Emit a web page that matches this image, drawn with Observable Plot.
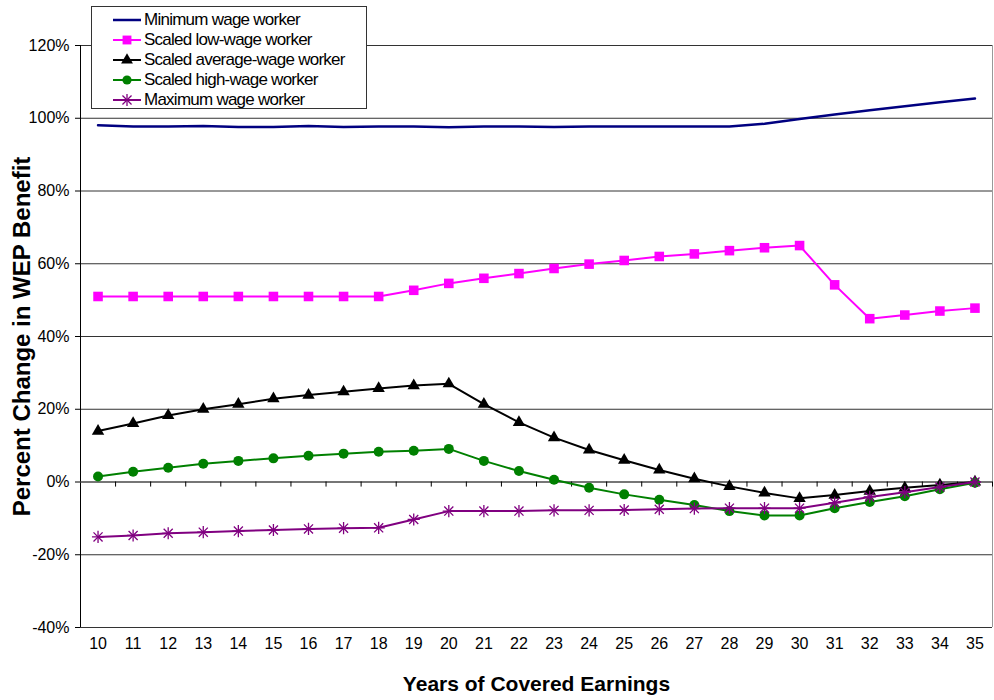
<!DOCTYPE html>
<html>
<head>
<meta charset="utf-8">
<script src="https://cdn.jsdelivr.net/npm/d3@7"></script>
<script src="https://cdn.jsdelivr.net/npm/@observablehq/plot@0.6"></script>
<style>
  html, body { margin: 0; padding: 0; background: #fff; }
  #wrap { position: relative; width: 994px; height: 700px; font-family: "Liberation Sans", Arial, sans-serif; }
  #legend { position: absolute; left: 91px; top: 6px; width: 276px; height: 103px; border: 1px solid #333; background: #fff; box-sizing: border-box; }
  .row { position: absolute; left: 0; height: 20px; display: flex; align-items: center; }
  .row svg { margin-left: 20px; }
  .row span { font-size: 17px; letter-spacing: -0.75px; margin-left: 2px; color: #000; white-space: nowrap; }
</style>
</head>
<body>
<div id="wrap"><div id="chart"></div><div id="legend"></div></div>
<script>
const years = [10,11,12,13,14,15,16,17,18,19,20,21,22,23,24,25,26,27,28,29,30,31,32,33,34,35];
const minWage  = [98.1,97.7,97.7,97.9,97.6,97.6,97.9,97.6,97.7,97.7,97.5,97.7,97.7,97.6,97.7,97.7,97.7,97.7,97.7,98.5,99.8,101.0,102.2,103.3,104.4,105.4];
const lowWage  = [51.0,51.0,51.0,51.0,51.0,51.0,51.0,51.0,51.0,52.7,54.6,56.0,57.3,58.7,59.9,60.9,62.0,62.7,63.6,64.4,65.0,54.2,44.9,45.9,47.0,47.8];
const avgWage  = [14.0,16.1,18.3,20.0,21.4,22.9,23.9,24.8,25.7,26.5,27.0,21.4,16.4,12.2,8.8,6.0,3.3,0.9,-1.2,-3.0,-4.5,-3.6,-2.5,-1.6,-0.8,0.0];
const highWage = [1.5,2.8,3.9,5.0,5.8,6.5,7.2,7.8,8.3,8.6,9.1,5.8,3.0,0.6,-1.6,-3.4,-4.9,-6.3,-8.0,-9.2,-9.2,-7.2,-5.5,-3.9,-2.0,-0.2];
const maxWage  = [-15.1,-14.7,-14.1,-13.8,-13.5,-13.2,-12.9,-12.7,-12.6,-10.3,-8.0,-8.0,-8.0,-7.8,-7.8,-7.7,-7.5,-7.3,-7.2,-7.2,-7.2,-5.7,-4.1,-2.8,-1.4,0.0];
const seriesNames = ["Minimum wage worker","Scaled low-wage worker","Scaled average-wage worker","Scaled high-wage worker","Maximum wage worker"];
const yTicks = [-40,-20,0,20,40,60,80,100,120];
const xTitle = "Years of Covered Earnings";
const yTitle = "Percent Change in WEP Benefit";

const rows = v => years.map((yr, i) => ({year: yr, value: v[i]}));
const dMin = rows(minWage), dLow = rows(lowWage), dAvg = rows(avgWage), dHigh = rows(highWage), dMax = rows(maxWage);
const bounds = years.map(y => y + 0.5);

const C = {min: "#000080", low: "#ff00ff", avg: "#000000", high: "#008000", max: "#800080"};

const chart = Plot.plot({
  width: 994, height: 700,
  marginTop: 45, marginBottom: 73, marginLeft: 80, marginRight: 2,
  x: {domain: [9.5, 35.5]},
  y: {domain: [-40, 120]},
  style: {fontFamily: "'Liberation Sans', Arial, sans-serif", fontSize: "16px", color: "#000", background: "#fff"},
  marks: [
    Plot.ruleY(yTicks, {stroke: "#333", strokeWidth: 1}),
    Plot.ruleX([35.5], {stroke: "#999", strokeWidth: 1}),
    Plot.ruleX([9.5], {stroke: "#000", strokeWidth: 1}),
    Plot.ruleY([0], {stroke: "#555", strokeWidth: 1.2}),
    Plot.ruleX(bounds, {y1: 0, y2: -1.4, stroke: "#000"}),
    Plot.axisY({ticks: yTicks, tickSize: 5, tickPadding: 6, tickFormat: d => d + "%", label: null}),
    Plot.axisX({ticks: years, tickSize: 0, tickPadding: 10, tickFormat: d => String(d), label: null}),
    Plot.line(dMin, {x: "year", y: "value", stroke: C.min, strokeWidth: 2.5}),
    Plot.line(dLow, {x: "year", y: "value", stroke: C.low, strokeWidth: 2}),
    Plot.dot(dLow, {x: "year", y: "value", symbol: "square", r: 5.4, fill: C.low, stroke: "none"}),
    Plot.line(dAvg, {x: "year", y: "value", stroke: C.avg, strokeWidth: 2}),
    Plot.dot(dAvg, {x: "year", y: "value", symbol: "triangle", r: 4.6, fill: C.avg, stroke: "none"}),
    Plot.line(dHigh, {x: "year", y: "value", stroke: C.high, strokeWidth: 2}),
    Plot.dot(dHigh, {x: "year", y: "value", symbol: "circle", r: 5, fill: C.high, stroke: "none"}),
    Plot.line(dMax, {x: "year", y: "value", stroke: C.max, strokeWidth: 2}),
    Plot.dot(dMax, {x: "year", y: "value", symbol: "times", r: 4.2, stroke: C.max, strokeWidth: 1.3, fill: "none"}),
    Plot.dot(dMax, {x: "year", y: "value", symbol: "plus", r: 4.0, stroke: C.max, strokeWidth: 1.3, fill: "none"}),
    Plot.text([yTitle], {frameAnchor: "left", rotate: -90, dx: -58, fontWeight: "bold", fontSize: 24, textAnchor: "middle", lineAnchor: "middle"}),
    Plot.text([xTitle], {frameAnchor: "bottom", dy: 57, fontWeight: "bold", fontSize: 21, textAnchor: "middle", lineAnchor: "middle"})
  ]
});
document.getElementById("chart").appendChild(chart);

// Legend
const legend = d3.select("#legend");
const symbols = [null, d3.symbolSquare, d3.symbolTriangle, d3.symbolCircle, "ast"];
const colors = [C.min, C.low, C.avg, C.high, C.max];
const widths = [2.5, 2, 2, 2, 2];
seriesNames.forEach((name, i) => {
  const row = legend.append("div").attr("class", "row").style("top", (3 + i * 20) + "px");
  const svg = row.append("svg").attr("width", 30).attr("height", 20);
  svg.append("line").attr("x1", 1).attr("x2", 29).attr("y1", 10).attr("y2", 10)
    .attr("stroke", colors[i]).attr("stroke-width", widths[i]);
  const s = symbols[i];
  if (s === "ast") {
    svg.append("path").attr("transform", "translate(15,10)")
      .attr("d", d3.symbol(d3.symbolTimes, Math.PI * 4.2 * 4.2)())
      .attr("stroke", colors[i]).attr("stroke-width", 1.3).attr("fill", "none");
    svg.append("path").attr("transform", "translate(15,10)")
      .attr("d", d3.symbol(d3.symbolPlus, Math.PI * 4 * 4)())
      .attr("stroke", colors[i]).attr("stroke-width", 1.3).attr("fill", "none");
  } else if (s) {
    const r = s === d3.symbolSquare ? 5 : s === d3.symbolTriangle ? 4.4 : 4.6;
    svg.append("path").attr("transform", "translate(15,10)")
      .attr("d", d3.symbol(s, Math.PI * r * r)()).attr("fill", colors[i]);
  }
  row.append("span").text(name);
});
</script>
</body>
</html>
